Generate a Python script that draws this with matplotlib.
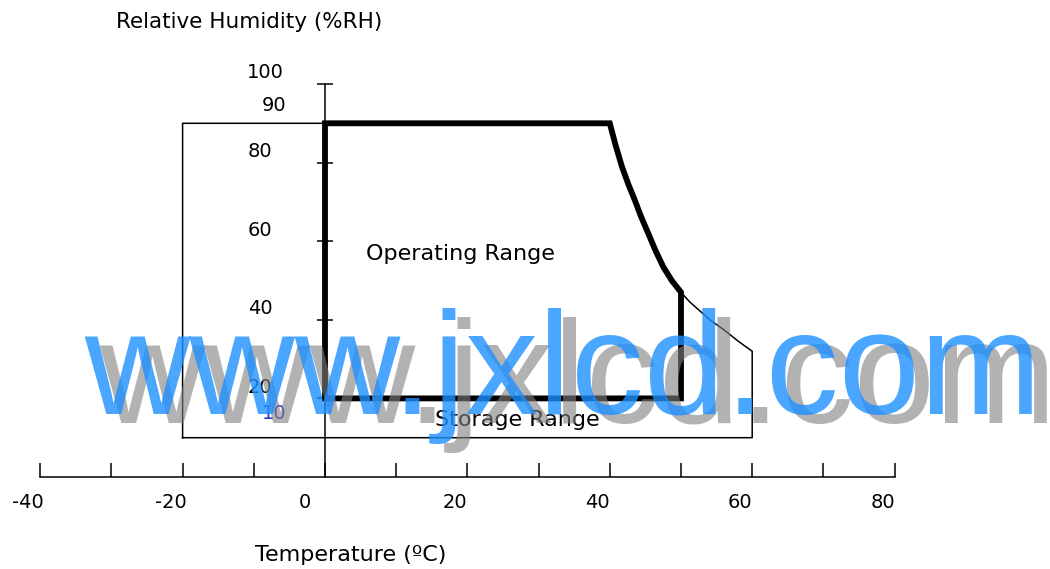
import matplotlib
matplotlib.use("Agg")
import matplotlib.pyplot as plt
from matplotlib.transforms import ScaledTranslation

# chart values
temp_major = [-40, -20, 0, 20, 40, 60, 80]
temp_minor = [-30, -10, 10, 30, 50, 70]
rh_ticks = [20, 40, 60, 80, 100]
extra_rh = [90, 10]

# operating range (thick outline): 0..50 C, 20..90 %RH, derated above 40 C
curve_t = [40, 40.8, 41.7, 42.6, 43.5, 44.4, 45.4, 46.4, 47.5, 48.7, 50]
curve_rh = [90, 84.5, 79, 74.5, 70.5, 66.2, 62, 57.7, 53.5, 50, 47]
op_t = [0, 0] + curve_t + [50, 0]
op_rh = [20, 90] + curve_rh + [20, 20]

# storage range (thin outline): -20..60 C, 10..90 %RH
tail_t = [51.2, 52.5, 54.2, 56, 58, 60]
tail_rh = [44.6, 42.5, 39.8, 37.5, 34.6, 32]
st_t = [-20, -20] + curve_t + tail_t + [60, -20]
st_rh = [10, 90] + curve_rh + tail_rh + [10, 10]

W, H, DPI = 1050, 569, 100
fig = plt.figure(figsize=(W / DPI, H / DPI), dpi=DPI)
ax = fig.add_axes([0, 0, 1, 1])
# pixel mapping: x = 325 + 7.12*T, y = 477 - 3.93*RH
ax.set_xlim(-325 / 7.12, (W - 325) / 7.12)
ax.set_ylim((477 - H) / 3.93, 477 / 3.93)

ax.plot(st_t, st_rh, color="black", lw=1.1)
ax.plot(op_t, op_rh, color="black", lw=4.2, solid_joinstyle="miter")

# axes through the origin
for s in ["top", "right"]:
    ax.spines[s].set_visible(False)
ax.spines["left"].set_position(("data", 0))
ax.spines["bottom"].set_position(("data", 0))
ax.spines["left"].set_bounds(0, 100)
ax.spines["bottom"].set_bounds(-40, 80)
ax.spines["left"].set_linewidth(1.1)
ax.spines["bottom"].set_linewidth(1.1)

ax.set_xticks(temp_major)
ax.set_xticks(temp_minor, minor=True)
ax.set_xticklabels([str(t) for t in temp_major])
ax.set_yticks(rh_ticks)
ax.set_yticklabels([str(v) for v in rh_ticks])
ax.tick_params(axis="x", which="both", direction="in", length=10, width=1.1,
               labelsize=14, pad=11.5)
ax.tick_params(axis="y", direction="inout", length=11.5, width=1.1,
               labelsize=14, pad=0)

px = 1 / DPI
for lbl, t in zip(ax.get_xticklabels(), temp_major):
    dx = -20 if t == 0 else -12
    lbl.set_transform(lbl.get_transform() + ScaledTranslation(dx * px, 0, fig.dpi_scale_trans))
for lbl, v in zip(ax.get_yticklabels(), rh_ticks):
    dx = -52 if v == 100 else -57
    lbl.set_ha("center")
    lbl.set_va("center")
    lbl.set_transform(lbl.get_transform() + ScaledTranslation(dx * px, 11 * px, fig.dpi_scale_trans))

# extra humidity labels at the storage limits
ax.annotate(str(extra_rh[0]), xy=(0, extra_rh[0]), xytext=(-37, 13),
            textcoords="offset points", ha="center", va="center", fontsize=14)
ax.annotate(str(extra_rh[1]), xy=(0, extra_rh[1]), xytext=(-36.4, 17.3),
            textcoords="offset points", ha="center", va="center", fontsize=14,
            color="#3333cc")

ax.text(-10.67, 114.2, "Relative Humidity (%RH)", ha="center", va="baseline", fontsize=15.5)
ax.text(3.58, -21.4, "Temperature (ºC)", ha="center", va="baseline", fontsize=16)
ax.text(18.96, 55.2, "Operating Range", ha="center", va="baseline", fontsize=16)
ax.text(27.04, 13.0, "Storage Range", ha="center", va="baseline", fontsize=16)

# watermark
fig.text(99 / W, 1 - 423 / H, "www.jxlcd.com", family="Liberation Sans", fontsize=105,
         color="#808080", alpha=0.6, ha="left", va="baseline", zorder=5)
fig.text(84 / W, 1 - 414 / H, "www.jxlcd.com", family="Liberation Sans", fontsize=105,
         color="dodgerblue", alpha=0.8, ha="left", va="baseline", zorder=6)

fig.savefig("out.png", dpi=DPI)
